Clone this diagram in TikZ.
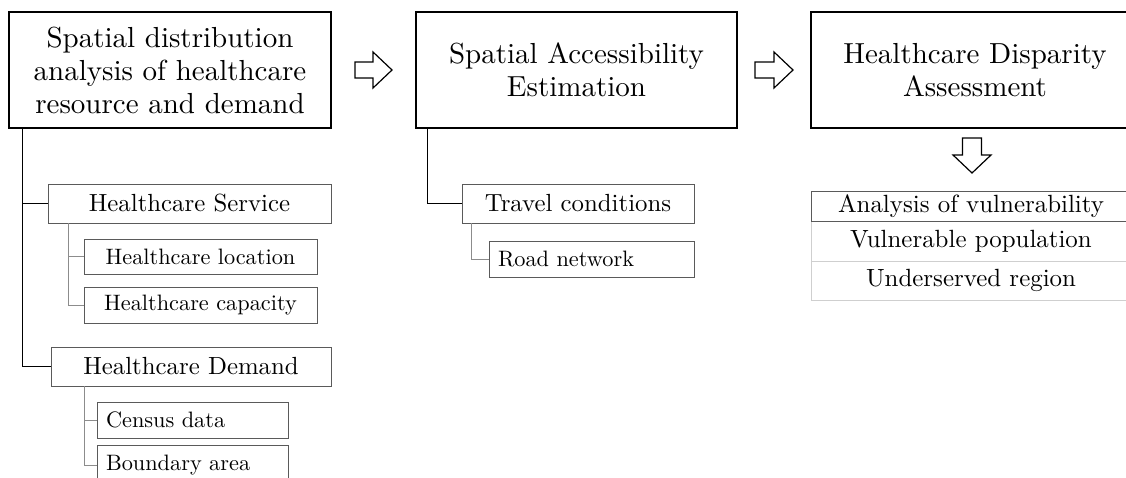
\documentclass[tikz,border=0pt]{standalone}
\usepackage{fontspec}
\setmainfont{lmroman10-regular}[Extension = .otf]
\usetikzlibrary{arrows}

\definecolor{boxGray}{HTML}{5A5A5A}
\definecolor{lineGray}{HTML}{8C8C8C}
\definecolor{rowGray}{HTML}{CFCFCF}

\begin{document}
\begin{tikzpicture}[x = 1pt, y = -1pt]
	\tikzstyle{mainStyle} = [draw, line width = 1.2pt, inner sep = 0pt, align = center, font = \fontsize{29}{33}\selectfont]
	\tikzstyle{subStyle} = [draw = boxGray, line width = 0.8pt, inner sep = 0pt, align = center, font = \fontsize{24.8}{29}\selectfont]
	\tikzstyle{leafStyle} = [draw = boxGray, line width = 0.8pt, inner sep = 0pt, align = center, font = \fontsize{22.3}{26}\selectfont]
	\tikzstyle{leftStyle} = [leafStyle, inner xsep = 9pt, align = left]
	\tikzstyle{rowStyle} = [draw = rowGray, line width = 0.8pt, inner sep = 0pt, font = \fontsize{24.9}{29}\selectfont]
	\tikzstyle{mainLink} = [line width = 1.2pt]
	\tikzstyle{subLink} = [draw = lineGray, line width = 0.8pt]
	\tikzstyle{blockArrow} = [draw, line width = 1.2pt, fill = white, line join = miter]
	\useasboundingbox (0,0) rectangle (1126,477);
	% three stages
	\node[mainStyle, minimum width = 322pt, minimum height = 116pt] (s1) at (170,70) {Spatial distribution\\analysis of healthcare\\resource and demand};
	\node[mainStyle, minimum width = 321pt, minimum height = 116pt] (s2) at (576.5,70) {Spatial Accessibility\\Estimation};
	\node[mainStyle, minimum width = 328pt, minimum height = 116pt] (s3) at (975,70) {Healthcare Disparity\\Assessment};
	\draw[blockArrow, shift = {(355,70)}] (0,-8) -- (18,-8) -- (18,-18) -- (37,0) -- (18,18) -- (18,8) -- (0,8) -- cycle;
	\draw[blockArrow, shift = {(755,70)}] (0,-8) -- (19,-8) -- (19,-18) -- (38,0) -- (19,18) -- (19,8) -- (0,8) -- cycle;
	\draw[blockArrow, shift = {(972,138)}] (-9.5,0) -- (9.5,0) -- (9.5,17) -- (19,17) -- (0,35) -- (-19,17) -- (-9.5,17) -- cycle;
	% resource and demand
	\node[subStyle, minimum width = 283pt, minimum height = 39pt] (hs) at (189.5,203.5) {Healthcare Service};
	\node[leafStyle, minimum width = 233pt, minimum height = 35pt] (hl) at (200.5,256.5) {Healthcare location};
	\node[leafStyle, minimum width = 233pt, minimum height = 36pt] (hc) at (200.5,305) {Healthcare capacity};
	\node[subStyle, minimum width = 280pt, minimum height = 39pt] (hd) at (191,366.5) {Healthcare Demand};
	\node[leftStyle, text width = 173pt, minimum height = 36pt] (cd) at (192.5,420) {Census data};
	\node[leftStyle, text width = 173pt, minimum height = 40pt] (ba) at (192.5,465) {Boundary area};
	\draw[mainLink] ([xshift = 14pt]s1.south west) |- (hs.west);
	\draw[mainLink] ([xshift = 14pt]s1.south west) |- (hd.west);
	\draw[subLink] ([xshift = 21pt]hs.south west) |- (hl.west);
	\draw[subLink] ([xshift = 21pt]hs.south west) |- (hc.west);
	\draw[subLink] ([xshift = 34pt]hd.south west) |- (cd.west);
	\draw[subLink] ([xshift = 34pt]hd.south west) |- (ba.west);
	% accessibility
	\node[subStyle, minimum width = 232pt, minimum height = 39pt] (tc) at (578,203.5) {Travel conditions};
	\node[leftStyle, text width = 187pt, minimum height = 36pt] (rn) at (591.5,259) {Road network};
	\draw[mainLink] ([xshift = 12pt]s2.south west) |- (tc.west);
	\draw[subLink] ([xshift = 10pt]tc.south west) |- (rn.west);
	% disparity
	\node[rowStyle, minimum width = 320pt, minimum height = 40pt] (vp) at (971,241) {Vulnerable population};
	\node[rowStyle, minimum width = 320pt, minimum height = 39pt] (ur) at (971,280.5) {Underserved region};
	\node[rowStyle, draw = boxGray, minimum width = 320pt, minimum height = 30pt] (av) at (971,206) {Analysis of vulnerability};
\end{tikzpicture}
\end{document}
